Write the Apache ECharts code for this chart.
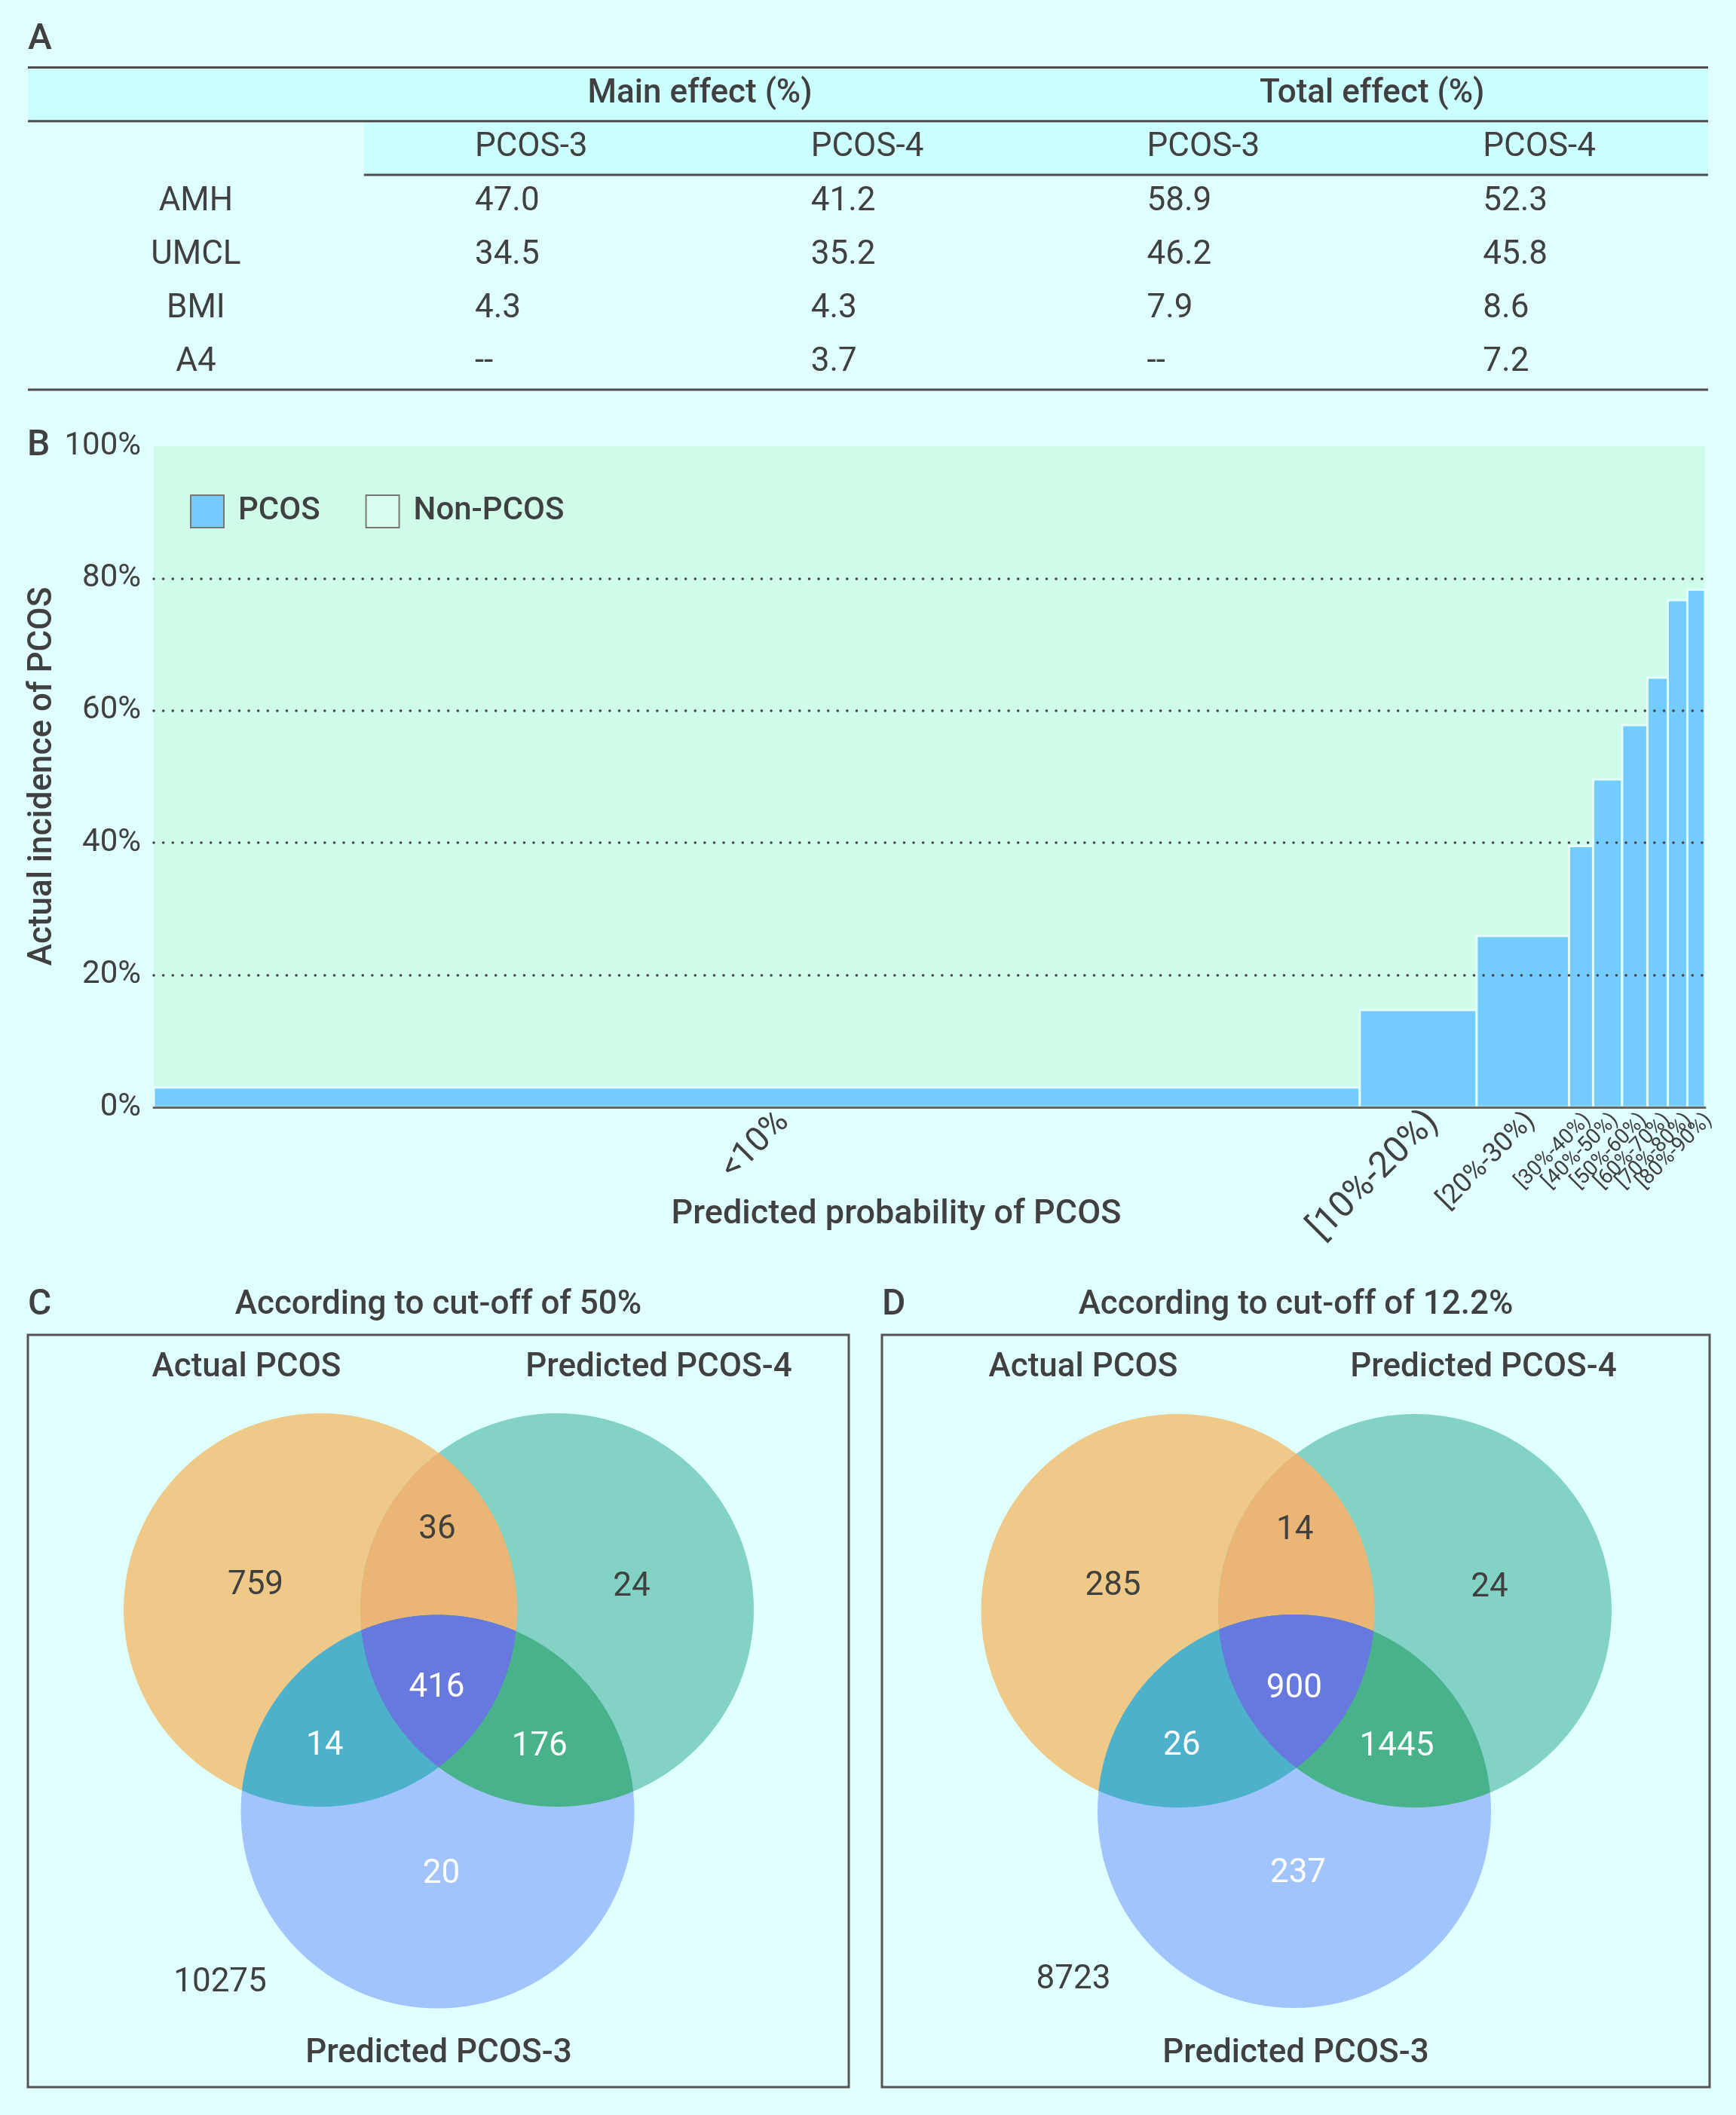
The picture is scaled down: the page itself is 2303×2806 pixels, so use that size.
<!DOCTYPE html>
<html>
<head>
<meta charset="utf-8">
<title>PCOS prediction</title>
<style>
html, body { margin: 0; padding: 0; background: #e0ffff; }
#main { width: 2303px; height: 2806px; }
</style>
<script src="https://cdn.jsdelivr.net/npm/echarts@6/dist/echarts.min.js"></script>
</head>
<body>
<div id="main"></div>
<script>
////////////////// data
// A: contribution table
var tableRows = ['AMH', 'UMCL', 'BMI', 'A4'];
var tableGroups = ['Main effect (%)', 'Total effect (%)'];
var tableCols = ['PCOS-3', 'PCOS-4', 'PCOS-3', 'PCOS-4'];
var mainPcos3 = ['47.0', '34.5', '4.3', '--'];
var mainPcos4 = ['41.2', '35.2', '4.3', '3.7'];
var totalPcos3 = ['58.9', '46.2', '7.9', '--'];
var totalPcos4 = ['52.3', '45.8', '8.6', '7.2'];

// B: bins of predicted probability, bar width = number of women in the bin
var binLabels = ['<10%', '[10%-20%)', '[20%-30%)', '[30%-40%)', '[40%-50%)',
	'[50%-60%)', '[60%-70%)', '[70%-80%)', '[80%-90%)'];
var binCounts = [9112, 883, 698, 182, 219, 191, 154, 148, 134];
var pcosRate = [3.0, 14.7, 25.9, 39.5, 49.6, 57.8, 65.0, 76.7, 78.3];
var yTicks = [0, 20, 40, 60, 80, 100];

// C / D: venn region counts, order A, B, C, AB, AC, BC, ABC, outside
var vennSets = ['Actual PCOS', 'Predicted PCOS-4', 'Predicted PCOS-3'];
var vennRegions = ['A', 'B', 'C', 'AB', 'AC', 'BC', 'ABC', ''];
var vennC = [759, 24, 20, 36, 14, 176, 416, 10275];
var vennD = [285, 24, 237, 14, 26, 1445, 900, 8723];

////////////////// styles / layout
var FONT = 'Roboto, "Noto Sans", sans-serif';
var TXT = '#404040';
var LINE = '#4d4d4d';
var binLabelFont = [45, 48, 36, 28, 28, 28, 28, 28, 28];
var binLabelShift = [36, 20, 11, 9, 10, 12, 13, 15, 17];
var regionColor = {
	A: '#efc987', B: '#82d3c3', C: '#a1c4fd',
	AB: '#ebb576', AC: '#4eb1cb', BC: '#48b28b', ABC: '#6779de'
};
// label offset from the mean of the centres of the circles that make the region
var regionLabelShift = {
	A: [-86, -32], B: [99, -30], C: [5, 83],
	AB: [-2, -106], AC: [-72, 47], BC: [56, 48], ABC: [-2, 15]
};
var TABLE = { left: 37, right: 2266, top: 89.5, rowH: 71.25, rows: 6, cols: 5 };
var vennPanels = [
	{ letter: 'C', title: 'According to cut-off of 50%', counts: vennC,
		box: { left: 37, top: 1771, width: 1089, height: 998 },
		circles: [[388, 365, 261], [702, 365, 261], [543.5, 632.5, 261]],
		names: [[290, 44], [837, 44], [545, 954]], outside: [255, 860] },
	{ letter: 'D', title: 'According to cut-off of 12.2%', counts: vennD,
		box: { left: 1170, top: 1771, width: 1098, height: 998 },
		circles: [[392.5, 366, 261], [707, 366, 261], [547, 632, 261]],
		names: [[267, 44], [798, 44], [549, 954]], outside: [254, 856] }
];

function font(size, weight) {
	return (weight || 'normal') + ' ' + size + 'px ' + FONT;
}

////////////////// table cells
var tableCells = [];
var tableValues = [mainPcos3, mainPcos4, totalPcos3, totalPcos4];
for (var g = 0; g < tableGroups.length; g++) {
	tableCells.push({ col: 2 + 2 * g, row: 0, text: tableGroups[g], kind: 'group' });
}
for (var c = 0; c < tableCols.length; c++) {
	tableCells.push({ col: c + 1, row: 1, text: tableCols[c], kind: 'cell' });
}
for (var r = 0; r < tableRows.length; r++) {
	tableCells.push({ col: 0, row: r + 2, text: tableRows[r], kind: 'row' });
	for (var c = 0; c < tableValues.length; c++) {
		tableCells.push({ col: c + 1, row: r + 2, text: tableValues[c][r], kind: 'cell' });
	}
}

function renderCell(params, api) {
	var cell = tableCells[params.dataIndex];
	var pt = api.coord([api.value(0), api.value(1)]);
	var band = api.size([1, 1]);
	var x = pt[0], align = 'center', weight = 'normal';
	if (cell.kind == 'group') {
		x = pt[0] - band[0] / 2;
		weight = 500;
	} else if (cell.kind == 'cell') {
		x = pt[0] - band[0] / 2 + band[0] * 0.33;
		align = 'left';
	}
	return {
		type: 'text', x: x, y: pt[1],
		style: { text: cell.text, font: font(44, weight), fill: TXT, align: align, verticalAlign: 'middle' }
	};
}

////////////////// histogram bars
var cum = [0];
for (var i = 0; i < binCounts.length; i++) cum.push(cum[i] + binCounts[i]);
var barData = binLabels.map(function (l, i) { return [cum[i], cum[i + 1], pcosRate[i], i]; });

function renderPcos(params, api) {
	var i = api.value(3);
	var p0 = api.coord([api.value(0), 0]);
	var p1 = api.coord([api.value(1), api.value(2)]);
	var cx = (p0[0] + p1[0]) / 2;
	return {
		type: 'group',
		children: [
			{ type: 'rect',
				shape: { x: p0[0], y: p1[1], width: p1[0] - p0[0], height: p0[1] - p1[1] },
				style: { fill: '#74cbfd', stroke: '#e2fffb', lineWidth: 3 } },
			{ type: 'text', x: cx + binLabelShift[i], y: p0[1] + 13, rotation: Math.PI / 4,
				style: { text: binLabels[i], font: font(binLabelFont[i]), fill: TXT, align: 'right', verticalAlign: 'middle' } }
		]
	};
}

function renderNonPcos(params, api) {
	var p0 = api.coord([api.value(0), api.value(2)]);
	var p1 = api.coord([api.value(1), 100]);
	return {
		type: 'rect',
		shape: { x: p0[0], y: p1[1], width: p1[0] - p0[0], height: p0[1] - p1[1] },
		style: { fill: '#d0fde9' }
	};
}

////////////////// venn helpers
// intersection of circles (convex) traced from an inner point
function intersectPoints(cs) {
	var ox = 0, oy = 0;
	cs.forEach(function (c) { ox += c[0] / cs.length; oy += c[1] / cs.length; });
	var pts = [];
	for (var k = 0; k < 1080; k++) {
		var a = k / 1080 * 2 * Math.PI, ux = Math.cos(a), uy = Math.sin(a), t = Infinity;
		cs.forEach(function (c) {
			var dx = c[0] - ox, dy = c[1] - oy;
			var b = ux * dx + uy * dy;
			var tt = b + Math.sqrt(b * b - dx * dx - dy * dy + c[2] * c[2]);
			if (tt < t) t = tt;
		});
		pts.push([ox + ux * t, oy + uy * t]);
	}
	return pts;
}

function makeVennRender(panel) {
	return function (params, api) {
		var idx = params.dataIndex;
		var key = vennRegions[idx];
		var children = [];
		var pos = panel.outside;
		if (key) {
			var members = key.split('').map(function (ch) { return panel.circles['ABC'.indexOf(ch)]; });
			var mx = 0, my = 0;
			members.forEach(function (c) { mx += c[0] / members.length; my += c[1] / members.length; });
			pos = [mx + regionLabelShift[key][0], my + regionLabelShift[key][1]];
			var cs = members.map(function (c) {
				var p = api.coord([c[0], c[1]]);
				return [p[0], p[1], api.size([c[2], 0])[0]];
			});
			if (cs.length == 1) {
				children.push({ type: 'circle', z2: idx, shape: { cx: cs[0][0], cy: cs[0][1], r: cs[0][2] },
					style: { fill: regionColor[key] } });
			} else {
				children.push({ type: 'polygon', z2: idx, shape: { points: intersectPoints(cs) },
					style: { fill: regionColor[key] } });
			}
		}
		var lp = api.coord(pos);
		children.push({ type: 'text', x: lp[0], y: lp[1], z2: 50,
			style: { text: String(api.value(0)), font: font(44),
				fill: key.indexOf('C') >= 0 ? '#ffffff' : TXT, align: 'center', verticalAlign: 'middle' } });
		return { type: 'group', children: children };
	};
}

////////////////// fixed texts and table frame
var graphics = [];
function addText(text, x, y, size, weight, align, rotation) {
	graphics.push({ type: 'text', x: x, y: y, rotation: rotation || 0, z: 10,
		style: { text: text, font: font(size, weight), fill: TXT, align: align || 'center', verticalAlign: 'middle' } });
}
var colW = (TABLE.right - TABLE.left) / TABLE.cols;
graphics.push({ type: 'rect', z: 1, shape: { x: TABLE.left, y: TABLE.top, width: TABLE.right - TABLE.left, height: TABLE.rowH },
	style: { fill: '#ccffff' } });
graphics.push({ type: 'rect', z: 1, shape: { x: TABLE.left + colW, y: TABLE.top + TABLE.rowH, width: TABLE.right - TABLE.left - colW, height: TABLE.rowH },
	style: { fill: '#ccffff' } });
[[TABLE.left, 0], [TABLE.left, 1], [TABLE.left + colW, 2], [TABLE.left, 6]].forEach(function (l) {
	var y = TABLE.top + l[1] * TABLE.rowH;
	graphics.push({ type: 'line', z: 2, shape: { x1: l[0], y1: y, x2: TABLE.right, y2: y },
		style: { stroke: LINE, lineWidth: 3 } });
});
addText('A', 37, 53, 48, 500, 'left');
addText('B', 36, 592, 48, 500, 'left');
addText('Actual incidence of PCOS', 57, 1030, 44, 500, 'center', Math.PI / 2);
addText('Predicted probability of PCOS', 1189, 1612, 45, 500);
vennPanels.forEach(function (p) {
	addText(p.letter, p.box.left, p.box.top - 39, 48, 500, 'left');
	addText(p.title, p.box.left + p.box.width / 2, p.box.top - 39, 44, 500);
	p.names.forEach(function (n, i) {
		addText(vennSets[i], p.box.left + n[0], p.box.top + n[1], 44, 500);
	});
});

////////////////// chart
var myChart = echarts.init(document.getElementById('main'));

var grids = [
	{ left: TABLE.left, right: 2303 - TABLE.right, top: TABLE.top, height: TABLE.rowH * TABLE.rows },
	{ left: 204, right: 41, top: 592, bottom: 2806 - 1469 }
];
var xAxes = [
	{ gridIndex: 0, type: 'category', data: ['', 'c1', 'c2', 'c3', 'c4'], show: false },
	{ gridIndex: 1, type: 'value', min: 0, max: cum[cum.length - 1], z: 5,
		axisLine: { show: true, lineStyle: { color: '#666', width: 3 } },
		axisTick: { show: false }, axisLabel: { show: false }, splitLine: { show: false } }
];
var yAxes = [
	{ gridIndex: 0, type: 'category', data: ['g', 'h', 'r1', 'r2', 'r3', 'r4'], inverse: true, show: false },
	{ gridIndex: 1, type: 'value', min: 0, max: 100, interval: 20, z: 5,
		axisLine: { show: false }, axisTick: { show: false },
		axisLabel: { formatter: '{value}%', fontSize: 42, fontFamily: FONT, color: TXT, margin: 17 },
		splitLine: { show: true, lineStyle: {
			color: yTicks.map(function (t) { return (t == 0 || t == 100) ? 'rgba(0,0,0,0)' : '#444'; }),
			type: [0.1, 12.5], width: 3.5, cap: 'round' } } }
];
var series = [
	{ type: 'custom', name: 'cells', xAxisIndex: 0, yAxisIndex: 0, renderItem: renderCell,
		data: tableCells.map(function (c) { return [c.col, c.row]; }), z: 3 },
	{ type: 'custom', name: 'PCOS', xAxisIndex: 1, yAxisIndex: 1, renderItem: renderPcos,
		itemStyle: { color: '#74cbfd' }, data: barData, z: 3 },
	{ type: 'custom', name: 'Non-PCOS', xAxisIndex: 1, yAxisIndex: 1, renderItem: renderNonPcos,
		itemStyle: { color: '#d8fdee' }, data: barData, z: 2 }
];

vennPanels.forEach(function (p, k) {
	grids.push({ left: p.box.left, top: p.box.top, width: p.box.width, height: p.box.height,
		show: true, borderColor: '#555', borderWidth: 3, backgroundColor: 'rgba(0,0,0,0)' });
	xAxes.push({ gridIndex: 2 + k, type: 'value', min: 0, max: p.box.width, show: false });
	yAxes.push({ gridIndex: 2 + k, type: 'value', min: 0, max: p.box.height, inverse: true, show: false });
	series.push({ type: 'custom', name: 'venn' + p.letter, xAxisIndex: 2 + k, yAxisIndex: 2 + k,
		renderItem: makeVennRender(p), data: p.counts.map(function (v) { return [v]; }),
		encode: { x: -1, y: -1 }, z: 3 });
});

var option = {
	backgroundColor: '#e0ffff',
	animation: false,
	textStyle: { fontFamily: FONT },
	grid: grids,
	xAxis: xAxes,
	yAxis: yAxes,
	legend: {
		data: ['PCOS', 'Non-PCOS'], left: 247, top: 651, icon: 'rect',
		itemWidth: 44, itemHeight: 43, itemGap: 60, selectedMode: false,
		itemStyle: { borderColor: '#777', borderWidth: 2 },
		textStyle: { fontSize: 42, fontWeight: 500, fontFamily: FONT, color: TXT, padding: [0, 0, 0, 14] }
	},
	graphic: graphics,
	series: series
};

myChart.setOption(option);
</script>
</body>
</html>
